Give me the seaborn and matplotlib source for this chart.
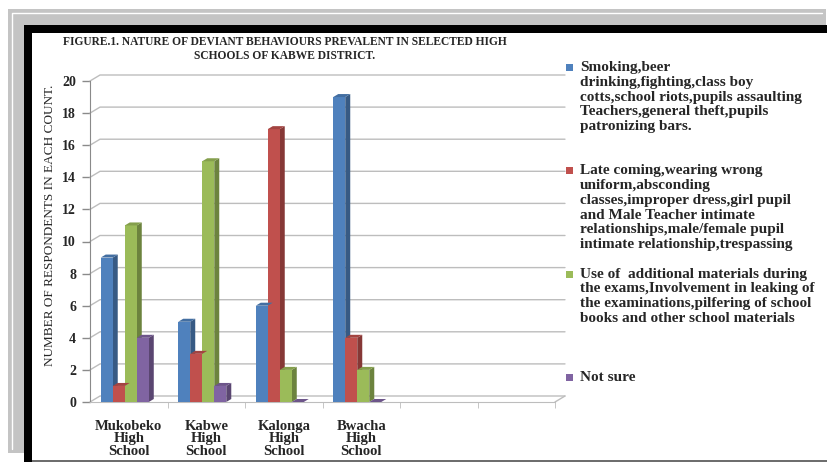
import matplotlib
matplotlib.use('Agg')
import matplotlib.pyplot as plt
import matplotlib.colors as mcolors
from matplotlib.patches import Rectangle, Polygon
from matplotlib.lines import Line2D
import seaborn as sns
import pandas as pd
import numpy as np

# data
schools = ['Mukobeko\nHigh\nSchool', 'Kabwe\nHigh\nSchool',
           'Kalonga\nHigh\nSchool', 'Bwacha\nHigh\nSchool']
behaviours = [
    'Smoking,beer\ndrinking,fighting,class boy\ncotts,school riots,pupils assaulting\nTeachers,general theft,pupils\npatronizing bars.',
    'Late coming,wearing wrong\nuniform,absconding\nclasses,improper dress,girl pupil\nand Male Teacher intimate\nrelationships,male/female pupil\nintimate relationship,trespassing',
    'Use of  additional materials during\nthe exams,Involvement in leaking of\nthe examinations,pilfering of school\nbooks and other school materials',
    'Not sure',
]
smoking = [9, 5, 6, 19]
late_coming = [1, 3, 17, 4]
exam_cheating = [11, 15, 2, 2]
not_sure = [4, 1, 0, 0]
colors = ['#4F81BD', '#C0504D', '#9BBB59', '#8064A2']

title = ('FIGURE.1. NATURE OF DEVIANT BEHAVIOURS PREVALENT IN SELECTED HIGH\n'
         'SCHOOLS OF KABWE DISTRICT.')
ylabel = 'NUMBER OF RESPONDENTS IN EACH COUNT.'

df = pd.DataFrame({
    'school': schools * 4,
    'behaviour': np.repeat(behaviours, len(schools)),
    'count': smoking + late_coming + exam_cheating + not_sure,
})

sns.set_style('white')
plt.rcParams['font.family'] = ['Liberation Serif', 'DejaVu Serif']

W, H = 828, 462
fig = plt.figure(figsize=(W / 100, H / 100), dpi=100)
fx = lambda x: x / W
fy = lambda y: 1 - y / H

# page frame (gray panel, black border)
def frect(x0, y0, x1, y1, color, z):
    fig.patches.append(Rectangle((fx(x0), fy(y1)), (x1 - x0) / W, (y1 - y0) / H,
                                 transform=fig.transFigure, facecolor=color,
                                 edgecolor='none', zorder=z))

frect(8, 9, 826, 453, '#c4c4c4', 0)
fig.lines.append(Line2D([fx(12), fx(12), fx(822)], [fy(449), fy(13), fy(13)],
                        transform=fig.transFigure, color='white', lw=1, zorder=1))
frect(32, 33, 828, 460, 'white', 2)
frect(24, 25, 828, 33, 'black', 3)
frect(24, 25, 32, 462, 'black', 3)
frect(32, 460, 828, 462, '#6e6e6e', 3)

ax = fig.add_axes([fx(90), fy(402), (555 - 90) / W, (402 - 81) / H])
ax.set_facecolor('none')
ax.set_zorder(5)

sns.barplot(data=df, x='school', y='count', hue='behaviour', hue_order=behaviours,
            order=schools, palette=colors, width=0.62, saturation=1,
            edgecolor='none', legend=False, ax=ax, zorder=3)

ax.set_xlim(-0.5, 5.5)
ax.set_ylim(0, 20)

# pixel -> data conversions for the fake 3d depth
p0 = ax.transData.transform((0, 0))
p1 = ax.transData.transform((1, 1))
ux, uy = p1[0] - p0[0], p1[1] - p0[1]

# back wall gridlines, shifted up/right
gx, gy = 10 / ux, 6 / uy
for v in range(0, 21, 2):
    ax.plot([-0.5, -0.5 + gx, 5.5 + gx], [v, v + gy, v + gy], color='#bdbdbd',
            lw=1, clip_on=False, zorder=1)
ax.plot([5.5, 5.5 + gx], [0, gy], color='#bdbdbd', lw=1, clip_on=False, zorder=1)

# side and top faces of the bars
bx, by = 5 / ux, 3 / uy
shift = 4 / ux
for bar in list(ax.patches):
    bar.set_x(bar.get_x() - shift)
    x, w, h = bar.get_x(), bar.get_width(), bar.get_height()
    fc = np.array(mcolors.to_rgb(bar.get_facecolor()))
    side = fc * 0.7
    top = fc * 0.85
    ax.add_patch(Polygon([(x + w, 0), (x + w, h), (x + w + bx, h + by), (x + w + bx, by)],
                         closed=True, facecolor=side, edgecolor='none', zorder=2))
    ax.add_patch(Polygon([(x, h), (x + w, h), (x + w + bx, h + by), (x + bx, h + by)],
                         closed=True, facecolor=top, edgecolor='none', zorder=4))

ax.set_xlabel('')
ax.set_ylabel('')
for s in ['top', 'right']:
    ax.spines[s].set_visible(False)
ax.spines['left'].set_color('#8a8a8a')
ax.spines['bottom'].set_color('#bdbdbd')

ax.set_yticks(range(0, 21, 2))
ax.tick_params(axis='y', direction='out', length=6, width=1, color='#8a8a8a',
               labelsize=10, pad=4, left=True)
ax.set_xticks(range(len(schools)))
ax.set_xticklabels(schools, fontsize=10.5, fontweight='bold', linespacing=0.94)
ax.set_xticks(np.arange(0.5, 6, 1), minor=True)
ax.tick_params(axis='x', which='major', length=0, pad=13)
ax.tick_params(axis='x', which='minor', direction='out', length=4, color='#bdbdbd',
               bottom=True)
for t in ax.get_yticklabels():
    t.set_fontweight('bold')

fig.text(fx(285), fy(36), title, ha='center', va='top', fontsize=8.3, fontweight='bold',
         linespacing=1.22, zorder=6)
fig.text(fx(50), fy(225), ylabel, ha='center', va='center', rotation=90,
         fontsize=9.5, zorder=6)

# legend placed like the spreadsheet legend
for i, (lab, c) in enumerate(zip(behaviours, colors)):
    ytop = 61 + i * 103.3
    frect(566, ytop + 3, 573, ytop + 10, c, 6)
    fig.text(fx(580), fy(ytop), lab, ha='left', va='top', fontsize=11,
             fontweight='bold', linespacing=1.18, zorder=6)

fig.savefig('out.png', dpi=100)
